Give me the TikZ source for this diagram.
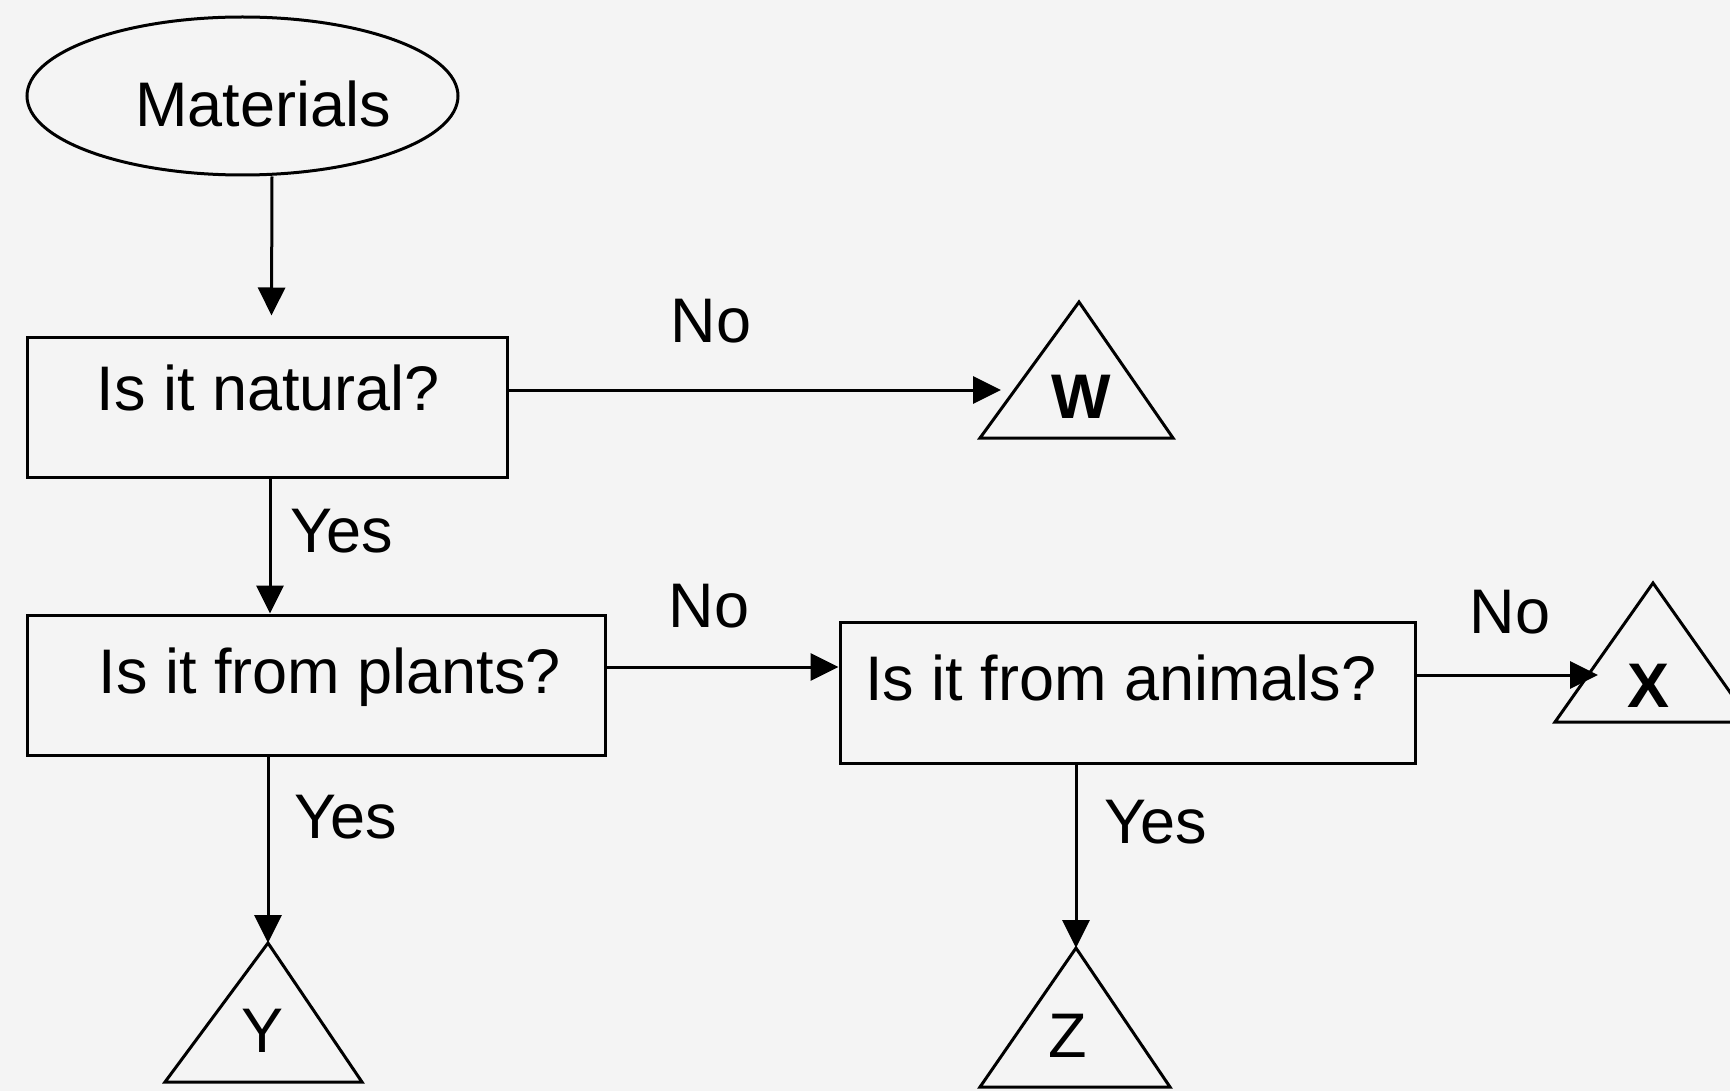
\documentclass[tikz,border=0pt]{standalone}
\usepackage{fontspec}
\setmainfont{Liberation Sans}
\usetikzlibrary{shapes.geometric,arrows.meta,calc}
\definecolor{bg}{RGB}{244,244,244}
\begin{document}
\begin{tikzpicture}[x=1pt,y=-1pt,
  line width=3pt,
  ell/.style={draw,ellipse,inner sep=0pt,minimum width=431pt,minimum height=158pt},
  box/.style={draw,rectangle,inner sep=0pt},
  txt/.style={anchor=base,inner sep=0pt,font=\fontsize{63}{75}\selectfont},
  btxt/.style={txt,font=\fontsize{63}{75}\selectfont\bfseries},
  tri/.style={draw,line join=miter},
  arr/.style={-{Triangle[length=28pt,width=27pt]}}
]
\fill[bg] (0,0) rectangle (1730,1091);
\useasboundingbox (0,0) rectangle (1730,1091);

% start node
\node[ell] (m) at (242.5,96) {};
\node[txt] (mt) at (263,127) {Materials};

% question boxes
\node[box,minimum width=480pt,minimum height=139pt] (b1) at (267,407.5) {};
\node[txt] (t1) at (268.5,410) {Is it natural?};
\node[box,minimum width=578pt,minimum height=140pt] (b2) at (316,685) {};
\node[txt] (t2) at (330,693) {Is it from plants?};
\node[box,minimum width=575pt,minimum height=141pt] (b3) at (1127.5,692.5) {};
\node[txt] (t3) at (1121,700) {Is it from animals?};

% triangles
\coordinate (Wa) at (1079,302); \coordinate (Wl) at (980,438); \coordinate (Wr) at (1173,438);
\draw[tri] (Wa) -- (Wl) -- (Wr) -- cycle;
\node[btxt] (W) at (1081,418) {W};
\coordinate (Xa) at (1653,583); \coordinate (Xl) at (1555,722); \coordinate (Xr) at (1751,722);
\draw[tri] (Xa) -- (Xl) -- (Xr) -- cycle;
\node[btxt] (X) at (1648,707) {X};
\coordinate (Ya) at (268,943); \coordinate (Yl) at (165,1082); \coordinate (Yr) at (362,1082);
\draw[tri] (Ya) -- (Yl) -- (Yr) -- cycle;
\node[txt] (Y) at (263,1052) {Y};
\coordinate (Za) at (1076,948); \coordinate (Zl) at (980,1087); \coordinate (Zr) at (1170,1087);
\draw[tri] (Za) -- (Zl) -- (Zr) -- cycle;
\node[txt] (Z) at (1068,1057) {Z};

% connector end points
\coordinate (Win) at (1001,390);
\coordinate (Xin) at (1598,675);

% connectors
\draw[arr] ($(m.south)+(29.5,0)$) -- ($(b1.north)+(4.5,-21)$);
\draw[arr] (b1.east |- Win) -- (Win);
\draw[arr] ($(b1.south)+(3,0)$) coordinate (p1) -- (p1 |- b2.north);
\draw[arr] ($(b2.east)+(0,-18)$) coordinate (p2) -- (p2 -| b3.west);
\draw[arr] (b3.east |- Xin) -- (Xin);
\draw[arr] (Ya |- b2.south) -- (Ya);
\draw[arr] (Za |- b3.south) -- (Za);

% labels
\node[txt] (no1) at (711,343) {No};
\node[txt] (no2) at (709,627) {No};
\node[txt] (no3) at (1510,633) {No};
\node[txt] (yes1) at (342,552) {Yes};
\node[txt] (yes2) at (346,838) {Yes};
\node[txt] (yes3) at (1156,843) {Yes};
\end{tikzpicture}
\end{document}
